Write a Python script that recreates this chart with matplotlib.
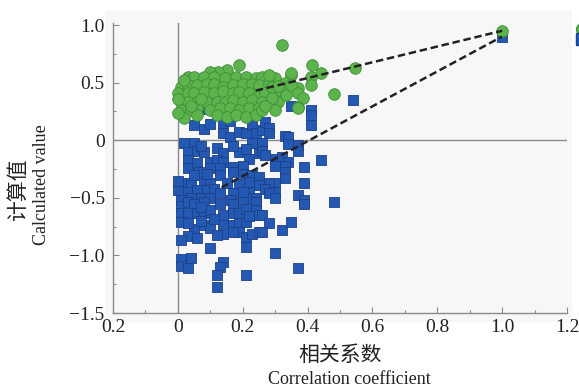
import matplotlib
matplotlib.use("Agg")
import matplotlib.pyplot as plt
from matplotlib.lines import Line2D
from matplotlib.patches import Rectangle

# ---------------- data ----------------
green_x = [0.32, 0.415, 0.44, 0.545, 0.48, 0.41, 0.41, 0.37, 0.30, 0.35, 0.33, 0.35, 0.37, 0.385, 0.37, 0.31, 0.30, 0.335,
           0.19, 0.15, 0.125, 0.10,
           0.03, 0.05, 0.08, 0.11, 0.145, 0.18, 0.21, 0.24, 0.26,
           0.01, 0.03, 0.06, 0.09, 0.11, 0.14, 0.17, 0.20, 0.23, 0.25, 0.28,
           0.00, 0.03, 0.05, 0.08, 0.11, 0.14, 0.17, 0.19, 0.22, 0.25, 0.27,
           0.01, 0.03, 0.06, 0.09, 0.12, 0.145, 0.17, 0.20, 0.23, 0.26,
           0.01, 0.04, 0.06, 0.10, 0.13, 0.16, 0.19, 0.22, 0.25,
           0.02, 0.06, 0.12, 0.15, 0.18, 0.21, 0.24,
           0.35, 0.37, 0.30, 0.26, 0.28, 0.29, 0.29, 0.27, 0.31, 0.00, 0.02, 0.00, 0.04, 0.07,
           1.00]
green_y = [0.83, 0.65, 0.58, 0.63, 0.40, 0.55, 0.48, 0.45, 0.54, 0.57, 0.50, 0.48, 0.41, 0.37, 0.29, 0.33, 0.42, 0.39,
           0.65, 0.61, 0.59, 0.59,
           0.55, 0.55, 0.55, 0.55, 0.54, 0.55, 0.55, 0.54, 0.55,
           0.46, 0.48, 0.48, 0.49, 0.49, 0.46, 0.48, 0.49, 0.49, 0.48, 0.49,
           0.41, 0.41, 0.41, 0.42, 0.41, 0.43, 0.41, 0.42, 0.41, 0.39, 0.41,
           0.33, 0.33, 0.33, 0.33, 0.33, 0.33, 0.35, 0.33, 0.35, 0.33,
           0.26, 0.26, 0.28, 0.26, 0.28, 0.28, 0.26, 0.28, 0.28,
           0.19, 0.22, 0.22, 0.20, 0.22, 0.20, 0.22,
           0.58, 0.28, 0.26, 0.26, 0.57, 0.46, 0.37, 0.30, 0.47, 0.36, 0.52, 0.24, 0.30, 0.36,
           0.95]

blue_x = [0.08, 0.05, 0.08, 0.10, 0.14, 0.16, 0.14, 0.16, 0.19, 0.21, 0.23, 0.24, 0.26, 0.23, 0.26,
          0.02, 0.05, 0.03, 0.06, 0.08, 0.12, 0.14, 0.19, 0.22, 0.25,
          0.03, 0.03, 0.06, 0.10, 0.12, 0.14, 0.10, 0.13, 0.17, 0.20,
          0.065, 0.17, 0.20, 0.23, 0.25,
          0.01, 0.04, 0.08, 0.10, 0.00, 0.03, 0.06, 0.09, 0.11, 0.19, 0.22, 0.25, 0.17,
          0.01, 0.04, 0.07, 0.10, 0.16, 0.21, 0.24,
          0.41, 0.41, 0.41, 0.27, 0.28, 0.28, 0.33, 0.34, 0.34, 0.37, 0.37, 0.26, 0.27, 0.30, 0.32, 0.34,
          0.30, 0.33, 0.44, 0.39, 0.33, 0.33, 0.30, 0.28, 0.39, 0.27, 0.30, 0.28, 0.30, 0.37, 0.39, 0.48,
          0.01, 0.03, 0.05, 0.08, 0.01, 0.03, 0.06, 0.08, 0.10, 0.17, 0.20, 0.24, 0.17, 0.19, 0.24, 0.25,
          0.01, 0.14, 0.17, 0.19, 0.21, 0.05, 0.08, 0.10, 0.14, 0.19, 0.21, 0.23, 0.25, 0.03, 0.01,
          0.21, 0.10, 0.01, 0.04, 0.01, 0.03, 0.14, 0.13, 0.12, 0.21, 0.12,
          0.39, 0.26, 0.28, 0.26, 0.32, 0.35, 0.30, 0.37,
          0.32, 0.35, 0.54, 0.00,
          0.07, 0.17, 0.21, 0.05, 0.13, 0.09, 0.15, 0.22, 0.13, 0.20, 0.07, 0.13, 0.21, 0.14, 0.22,
          0.07, 0.11, 0.03, 0.17, 0.12, 0.06,
          1.00]
blue_y = [0.27, 0.13, 0.10, 0.14, 0.15, 0.17, 0.06, 0.03, 0.07, 0.06, 0.13, 0.06, 0.09, -0.02, -0.02,
          -0.02, -0.02, -0.10, -0.09, -0.10, -0.07, -0.11, -0.10, -0.16, -0.11,
          -0.17, -0.24, -0.20, -0.19, -0.17, -0.19, -0.24, -0.24, -0.23, -0.22,
          -0.28, -0.28, -0.29, -0.30, -0.32,
          -0.37, -0.37, -0.37, -0.37, -0.43, -0.45, -0.43, -0.43, -0.42, -0.39, -0.42, -0.39, -0.46,
          -0.52, -0.50, -0.50, -0.50, -0.52, -0.50, -0.50,
          0.26, 0.22, 0.13, 0.16, 0.11, 0.06, 0.04, 0.03, -0.03, -0.04, -0.09, -0.09, -0.13, -0.16, -0.15, -0.19,
          -0.22, -0.22, -0.17, -0.23, -0.28, -0.33, -0.37, -0.37, -0.37, -0.42, -0.45, -0.46, -0.50, -0.48, -0.52, -0.54,
          -0.57, -0.54, -0.55, -0.54, -0.63, -0.63, -0.63, -0.63, -0.61, -0.55, -0.54, -0.54, -0.63, -0.63, -0.61, -0.65,
          -0.71, -0.72, -0.74, -0.72, -0.71, -0.77, -0.74, -0.76, -0.81, -0.80, -0.84, -0.81, -0.80, -0.83, -0.87,
          -0.93, -0.94, -1.03, -1.02, -1.09, -1.11, -1.06, -1.10, -1.17, -1.17, -1.27,
          -0.55, -0.65, -0.72, -0.80, -0.78, -0.71, -0.98, -1.11,
          0.39, 0.30, 0.35, -0.35,
          -0.05, -0.05, -0.08, -0.30, -0.30, -0.29, -0.37, -0.36, -0.46, -0.45, -0.58, -0.55, -0.60, -0.65, -0.66,
          -0.70, -0.68, -0.72, -0.80, -0.82, -0.85,
          0.90]

green_line_x = [0.24, 1.00]
green_line_y = [0.43, 0.95]
blue_line_x = [0.135, 1.00]
blue_line_y = [-0.41, 0.90]

x_ticks = [-0.2, 0.0, 0.2, 0.4, 0.6, 0.8, 1.0, 1.2]
x_tick_labels = ["0.2", "0", "0.2", "0.4", "0.6", "0.8", "1.0", "1.2"]
y_ticks = [-1.5, -1.0, -0.5, 0.0, 0.5, 1.0]
y_tick_labels = ["\u22121.5", "\u22121.0", "\u22120.5", "0", "0.5", "1.0"]

# ---------------- style ----------------
plt.rcParams['font.family'] = ['Liberation Serif', 'Noto Sans CJK SC', 'DejaVu Sans']
W, H = 579, 390
fig = plt.figure(figsize=(W / 100, H / 100), dpi=100)
fig.patch.set_facecolor('white')

# light plot background panel (behind the axes)
bg = fig.add_axes([105 / W, 1 - 322 / H, (572 - 105) / W, (322 - 10) / H], zorder=0)
bg.set_axis_off()
bg.add_patch(Rectangle((0, 0), 1, 1, transform=bg.transAxes, facecolor='#f7f7f7', edgecolor='none'))

ax = fig.add_axes([113 / W, 1 - 313 / H, (567 - 113) / W, (313 - 22.7) / H], zorder=1)
ax.patch.set_alpha(0)
ax.set_xlim(-0.2, 1.2)
ax.set_ylim(-1.5, 1.02)

grey = '#8a8a8a'
for s in ['top', 'right']:
    ax.spines[s].set_visible(False)
for s in ['left', 'bottom']:
    ax.spines[s].set_color(grey)
    ax.spines[s].set_linewidth(1.0)

ax.axhline(0, color=grey, lw=1.0, zorder=1)
ax.axvline(0, color=grey, lw=1.0, zorder=1)

ax.set_xticks(x_ticks)
ax.set_xticklabels(x_tick_labels)
ax.set_xticks([v / 10 for v in range(-2, 13)], minor=True)
ax.set_yticks(y_ticks)
ax.set_yticklabels(y_tick_labels)
ax.set_yticks([v / 4 for v in range(-6, 5)], minor=True)
ax.tick_params(which='both', direction='in', color=grey, width=0.8)
ax.tick_params(which='major', length=4, labelsize=14, labelcolor='#222222')
ax.tick_params(which='minor', length=2.5)
ax.tick_params(axis='x', pad=4)
ax.tick_params(axis='y', pad=6)

ax.scatter(blue_x, blue_y, marker='s', s=60, facecolor='#2359b3', edgecolor='#1d3f86',
           linewidth=0.6, zorder=3, clip_on=False)
ax.scatter(green_x, green_y, marker='o', s=70, facecolor='#5db44c', edgecolor='#3d8f38',
           linewidth=0.6, zorder=4, clip_on=False)
ax.plot(green_line_x, green_line_y, ls=(0, (3, 1.5)), color='#222222', lw=1.8, zorder=5)
ax.plot(blue_line_x, blue_line_y, ls=(0, (3, 1.5)), color='#222222', lw=1.8, zorder=5)

# partly cut-off legend at right edge
h1 = Line2D([], [], marker='o', ls='none', markersize=8.5, markerfacecolor='#5db44c', markeredgecolor='#3d8f38')
h2 = Line2D([], [], marker='s', ls='none', markersize=8, markerfacecolor='#2359b3', markeredgecolor='#1d3f86')
fig.legend([h1, h2], ['', ''], loc='upper left', bbox_to_anchor=(568 / W, 1 - 17 / H),
           frameon=False, handlelength=1.0, handletextpad=0.3, labelspacing=-0.2, borderpad=0)

# axis titles
fig.text(340 / W, 1 - 355 / H, '相关系数', ha='center', va='center', fontsize=15,
         family=['Noto Sans CJK SC', 'DejaVu Sans'], color='#222222')
fig.text(349 / W, 1 - 379 / H, 'Correlation coefficient', ha='center', va='center', fontsize=13,
         color='#222222')
fig.text(18 / W, 1 - 190 / H, '计算值', ha='center', va='center', rotation=90, fontsize=15,
         family=['Noto Sans CJK SC', 'DejaVu Sans'], color='#222222')
fig.text(42 / W, 1 - 185 / H, 'Calculated value', ha='center', va='center', rotation=90, fontsize=13,
         color='#222222')

fig.savefig('out.png', dpi=100)
